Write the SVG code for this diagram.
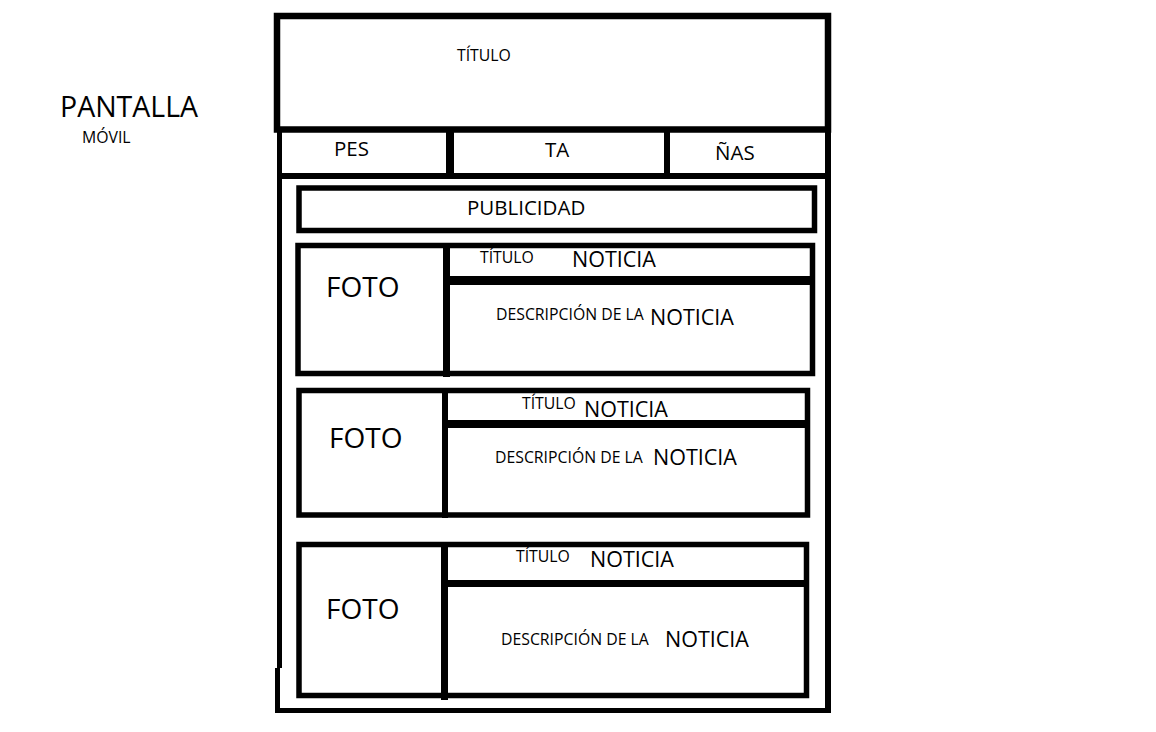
<svg xmlns="http://www.w3.org/2000/svg" width="1156" height="732" viewBox="0 0 1156 732">
<style>
.b{fill:none;stroke:#000;stroke-width:6}
.l{stroke:#000;fill:none}
text{font-family:"Open Sans","Noto Sans","DejaVu Sans",sans-serif;fill:#000}
.s{font-size:15.8px}
.m{font-size:20.5px}
.n{font-size:21.5px}
.f{font-size:28px}
</style>
<rect width="1156" height="732" fill="#fff"/>
<g id="label">
<text x="60" y="117" font-size="28.5">PANTALLA</text>
<text x="82" y="143" class="s">MÓVIL</text>
</g>
<g id="frame">
<rect class="b" x="277" y="16" width="551" height="113.5" style="stroke-width:6.5"/>
<text x="457" y="61" class="s">TÍTULO</text>
<path class="l" d="M279.5 130V668" stroke-width="5"/>
<path class="l" d="M277.5 668V713" stroke-width="5"/>
<path class="l" d="M828 130V713" stroke-width="6"/>
<path class="l" d="M275 710.5H831" stroke-width="5"/>
</g>
<g id="nav">
<path class="l" d="M279 176H828" stroke-width="6"/>
<path class="l" d="M450 130V176" stroke-width="8"/>
<path class="l" d="M667 130V176" stroke-width="6"/>
<text x="334" y="156" class="m">PES</text>
<text x="545" y="157" class="m">TA</text>
<text x="715" y="160" class="m">ÑAS</text>
</g>
<g id="publicidad">
<rect class="b" x="299" y="188" width="515.5" height="42.5" style="stroke-width:5.5"/>
<text x="467" y="215" class="m">PUBLICIDAD</text>
</g>
<g id="noticia1">
<rect class="b" x="298" y="245.5" width="514.5" height="128" style="stroke-width:5.5"/>
<path class="l" d="M446.5 243V377" stroke-width="7"/>
<path class="l" d="M446 280.5H812" stroke-width="9"/>
<text x="326" y="297" class="f">FOTO</text>
<text x="480" y="263" class="s">TÍTULO</text>
<text x="572" y="267" class="n">NOTICIA</text>
<text x="496" y="320" class="s">DESCRIPCIÓN DE LA</text>
<text x="650" y="325" class="n">NOTICIA</text>
</g>
<g id="noticia2">
<rect class="b" x="299" y="390.5" width="508.5" height="124.5" style="stroke-width:5.5"/>
<path class="l" d="M445 388V518" stroke-width="6"/>
<path class="l" d="M445 424H807" stroke-width="8"/>
<text x="329" y="448" class="f">FOTO</text>
<text x="522" y="409" class="s">TÍTULO</text>
<text x="584" y="417" class="n">NOTICIA</text>
<text x="495" y="463" class="s">DESCRIPCIÓN DE LA</text>
<text x="653" y="465" class="n">NOTICIA</text>
</g>
<g id="noticia3">
<rect class="b" x="299" y="544.5" width="507.5" height="151" style="stroke-width:5.5"/>
<path class="l" d="M444.5 542V700" stroke-width="7"/>
<path class="l" d="M444 583.5H806" stroke-width="7"/>
<text x="326" y="619" class="f">FOTO</text>
<text x="516" y="562" class="s">TÍTULO</text>
<text x="590" y="567" class="n">NOTICIA</text>
<text x="501" y="645" class="s">DESCRIPCIÓN DE LA</text>
<text x="665" y="647" class="n">NOTICIA</text>
</g>
</svg>
